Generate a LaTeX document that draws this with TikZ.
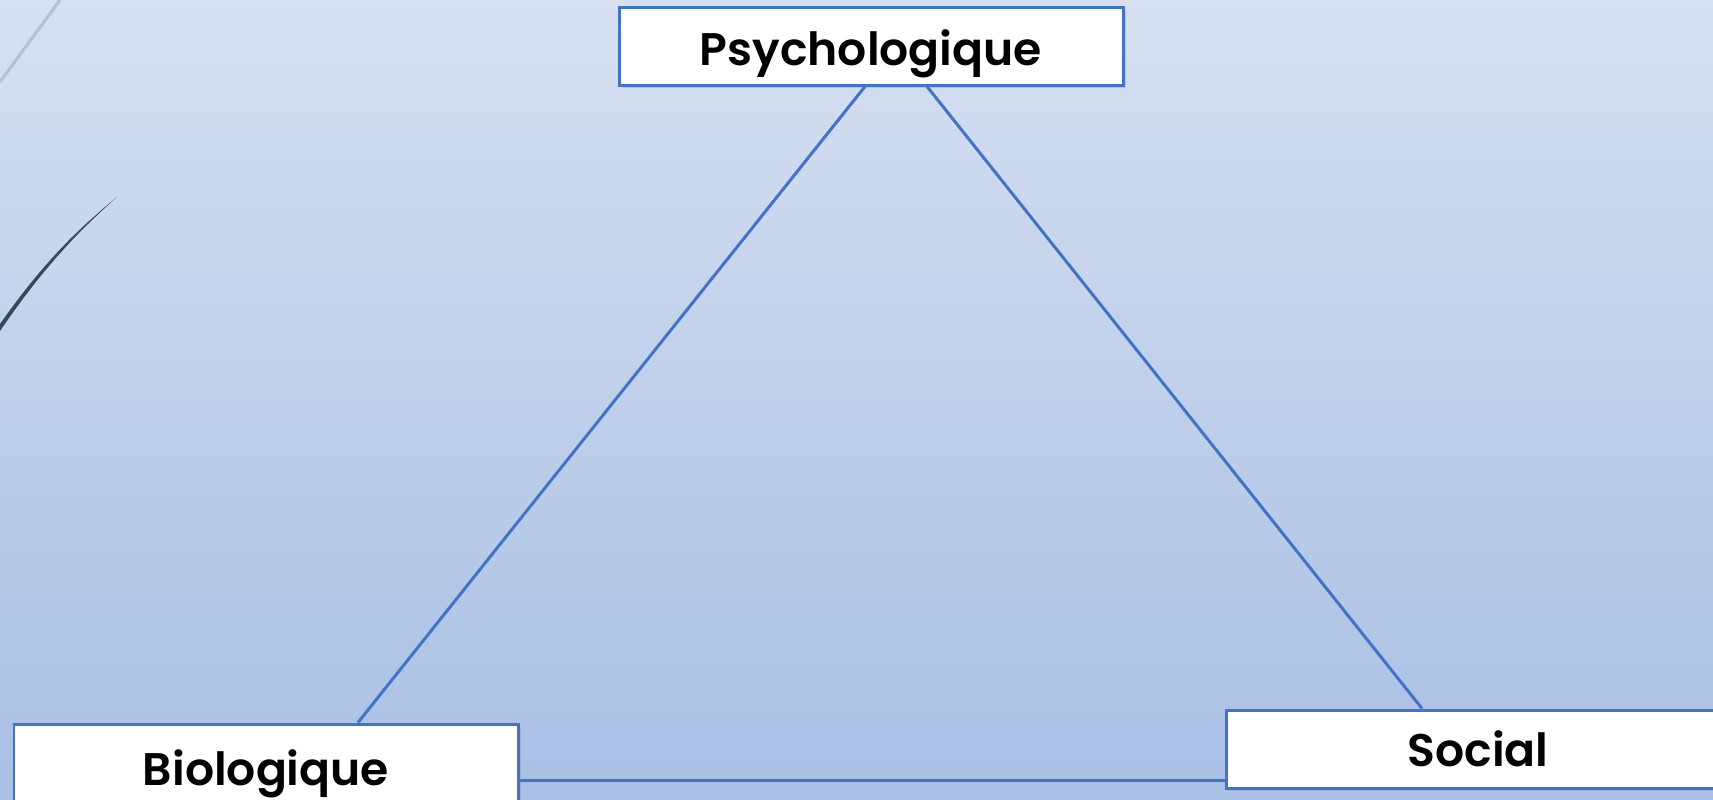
\documentclass[tikz,border=0pt]{standalone}
\usepackage{fontspec}
\setmainfont{Poppins}[BoldFont={Poppins SemiBold}]
\usetikzlibrary{shadows}
\definecolor{bgtop}{RGB}{214,224,241}
\definecolor{bgbottom}{RGB}{169,191,229}
\definecolor{boxblue}{RGB}{68,114,196}
\definecolor{swoosh}{RGB}{47,75,92}
\definecolor{swooshlight}{RGB}{178,194,212}
\tikzset{
  pole/.style={draw=boxblue, line width=1.7pt, fill=white, inner sep=0pt,
    minimum width=10.08cm, minimum height=1.56cm,
    text height=0.76cm, text depth=0cm,
    font=\fontsize{26}{30}\selectfont\bfseries,
    drop shadow={shadow xshift=1.5pt, shadow yshift=-1.5pt, opacity=0.25}},
  link/.style={boxblue, line width=1.7pt}
}
\begin{document}
\begin{tikzpicture}
  % fond
  \shade[top color=bgtop, bottom color=bgbottom] (0,0) rectangle (34.26,-15.98);
  \useasboundingbox (0,0) rectangle (34.26,-15.98);

  \draw[swooshlight, line width=1.8pt] (0,-1.64) -- (1.2,0);
  \fill[swoosh] (0,-6.62) .. controls (0.9,-5.3) and (1.6,-4.6) .. (2.34,-3.94)
    .. controls (1.6,-4.55) and (0.9,-5.2) .. (0,-6.48) -- cycle;

  % Pole
  \node[pole] (psy) at (17.42,-0.92) {Psychologique};
  \node[pole, text height=0.9cm] (bio) at (5.32,-15.26) {Biologique};
  \node[pole, text height=0.7cm] (soc) at (29.56,-14.98) {Social};

  \draw[link] ([xshift=-0.12cm]psy.south) -- ([xshift=1.84cm]bio.north);
  \draw[link] ([xshift=1.12cm]psy.south) -- ([xshift=-1.12cm]soc.north);
  \draw[link] ([yshift=-0.34cm]bio.east) -- ([yshift=-0.62cm]soc.west);
\end{tikzpicture}
\end{document}
